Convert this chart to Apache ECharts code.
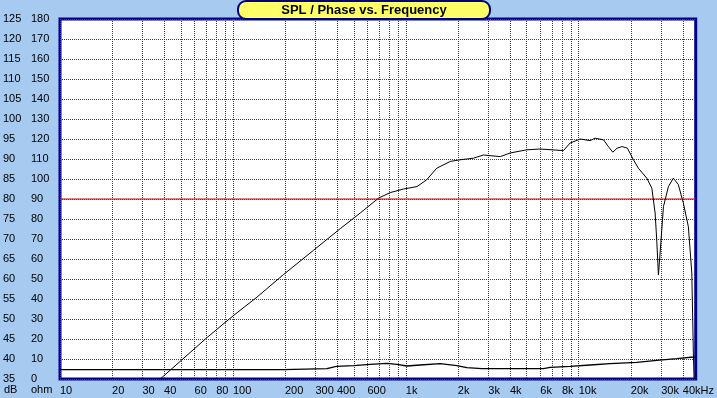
<!DOCTYPE html>
<html>
<head>
<meta charset="utf-8">
<title>SPL / Phase vs. Frequency</title>
<script src="https://cdn.jsdelivr.net/npm/echarts@6/dist/echarts.min.js"></script>
<style>
  html, body { margin: 0; padding: 0; background: #A6CAF0; }
  #chart { width: 717px; height: 398px; }
</style>
</head>
<body>
<div id="chart"></div>
<script>
// SPL curve (dB, left column)
var splFreq = [38, 71, 101, 138, 196, 293, 418, 545, 695, 812, 970, 1160, 1320, 1510, 1810, 2060, 2460, 2810, 3520, 4010, 5010, 5980, 8160, 8920, 10190, 11640, 12440, 13900, 14850, 15740, 16670, 17820, 19130, 20720, 22140, 24770, 26480, 27660, 28260, 28900, 29560, 30900, 33020, 35250, 37670, 40280, 43060, 45080, 46030, 46450];
var splDb = [35, 45.4, 50.9, 55.5, 61.1, 67.2, 72.6, 76.5, 80.2, 81.6, 82.5, 83.1, 84.8, 87.7, 89.4, 89.8, 90.2, 91.0, 90.6, 91.5, 92.3, 92.5, 92.1, 94.0, 95.0, 94.6, 95.2, 94.8, 93.1, 91.7, 92.7, 93.1, 92.7, 89.8, 87.7, 85.2, 82.7, 76.5, 69.8, 61.0, 66.5, 78.1, 83.1, 85.2, 83.6, 79.0, 73.1, 61.5, 41.5, 35];

// impedance curve (ohm, right column)
var impFreq = [10, 196, 200, 350, 396, 499, 622, 778, 889, 1014, 1211, 1580, 1974, 2254, 2754, 6252, 6839, 8919, 11640, 15180, 21660, 28260, 36900, 46030, 47500];
var impOhm = [4.7, 4.7, 5.2, 5.2, 6.3, 6.7, 7.3, 7.8, 7.3, 6.5, 7.0, 7.7, 6.7, 5.7, 5.2, 5.2, 5.8, 6.3, 7.0, 7.7, 8.3, 9.3, 10.2, 11.0, 11.2];

// reference level (red line)
var refFreq = [10, 47500];
var refDb = [80, 80];

// grid lines and labels on the frequency axis
var freqGrid = [10, 20, 30, 40, 50, 60, 70, 80, 90,
  100, 200, 300, 400, 500, 600, 700, 800, 900,
  1000, 2000, 3000, 4000, 5000, 6000, 7000, 8000, 9000,
  10000, 20000, 30000, 40000];
var freqLabels = [10, 20, 30, 40, 60, 80, 100, 200, 300, 400, 600, 1000, 2000, 3000, 4000, 6000, 8000, 10000, 20000, 30000, 40000];

function pairs(xs, ys) {
  return xs.map(function (x, i) { return [x, ys[i]]; });
}

var gridColor = '#007000';
var font = 'Liberation Sans';

var chart = echarts.init(document.getElementById('chart'));

chart.setOption({
  backgroundColor: '#A6CAF0',
  animation: false,
  textStyle: { fontFamily: font },
  grid: {
    left: 60, right: 21, top: 19, bottom: 19,
    show: true,
    backgroundColor: '#ffffff',
    borderColor: '#00008B',
    borderWidth: 3
  },
  graphic: [
    {
      type: 'rect',
      shape: { x: 238, y: 1, width: 252, height: 18, r: 8 },
      style: { fill: '#FFFF66', stroke: '#000080', lineWidth: 2 },
      z: 100
    },
    {
      type: 'text',
      x: 364, y: 10,
      style: { text: 'SPL / Phase vs. Frequency', fill: '#000', font: 'bold 13px ' + font, align: 'center', verticalAlign: 'middle' },
      z: 101
    },
    { type: 'text', x: 4, y: 390, style: { text: 'dB', fill: '#000', font: '11px ' + font, verticalAlign: 'middle' } },
    { type: 'text', x: 31, y: 390, style: { text: 'ohm', fill: '#000', font: '11px ' + font, verticalAlign: 'middle' } }
  ],
  xAxis: {
    type: 'log',
    logBase: 10,
    min: 10,
    max: 47500,
    axisLine: { show: false },
    axisTick: { show: false, customValues: freqGrid },
    splitLine: { show: true, lineStyle: { color: gridColor, type: 'dotted', width: 1 } },
    axisLabel: {
      customValues: freqLabels,
      align: 'left',
      margin: 6,
      color: '#000',
      fontSize: 11,
      formatter: function (v) {
        if (v >= 40000) return '40kHz';
        if (v >= 1000) return (v / 1000) + 'k';
        return String(v);
      }
    }
  },
  yAxis: [
    {
      type: 'value',
      min: 35, max: 125, interval: 5,
      position: 'left',
      axisLine: { show: false },
      axisTick: { show: false },
      splitLine: { show: true, lineStyle: { color: gridColor, type: 'dotted', width: 1 } },
      axisLabel: { align: 'left', margin: 57, color: '#000', fontSize: 11, padding: [0, 0, 6, 0] }
    },
    {
      type: 'value',
      min: 0, max: 180, interval: 10,
      position: 'left',
      offset: 0,
      axisLine: { show: false },
      axisTick: { show: false },
      splitLine: { show: false },
      axisLabel: { align: 'left', margin: 29, color: '#000', fontSize: 11, padding: [0, 0, 6, 0] }
    }
  ],
  series: [
    {
      name: 'Ref',
      type: 'line',
      yAxisIndex: 0,
      data: pairs(refFreq, refDb),
      symbol: 'none',
      silent: true,
      lineStyle: { color: '#D00000', width: 1 },
      z: 3
    },
    {
      name: 'SPL',
      type: 'line',
      yAxisIndex: 0,
      data: pairs(splFreq, splDb),
      symbol: 'none',
      lineStyle: { color: '#000', width: 1 },
      z: 5
    },
    {
      name: 'Impedance',
      type: 'line',
      yAxisIndex: 1,
      data: pairs(impFreq, impOhm),
      symbol: 'none',
      lineStyle: { color: '#000', width: 1.3 },
      z: 5
    }
  ]
});
</script>
</body>
</html>
